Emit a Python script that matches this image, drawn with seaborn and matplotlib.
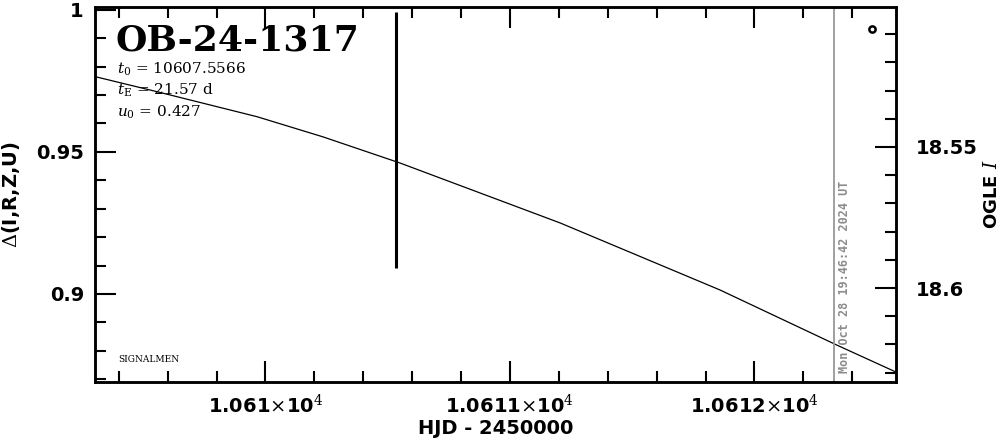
import matplotlib
matplotlib.use("Agg")
import matplotlib.pyplot as plt
import seaborn as sns
import pandas as pd
from matplotlib.ticker import MultipleLocator, FixedLocator, FuncFormatter

# model curve (HJD-2450000, Delta)
model_t = [10609.303, 10609.556, 10609.965, 10610.235, 10610.550, 10611.205, 10611.859, 10612.337, 10612.579]
model_d = [0.9765, 0.9712, 0.9624, 0.9553, 0.9461, 0.9250, 0.9014, 0.8820, 0.8725]

# OGLE I data point
ogle_t = [10610.536]
ogle_mag = [18.5475]
ogle_err = [0.0454]

now_t = 10612.324
now_label = "Mon Oct 28 19:46:42 2024 UT"
event = "OB-24-1317"
params = [r"$t_0$ = 10607.5566", r"$t_{\rm E}$ = 21.57 d", r"$u_0$ = 0.427"]
xticks = [10610, 10611, 10612]
xtick_labels = [r"1.061$\times$10$^4$", r"1.0611$\times$10$^4$", r"1.0612$\times$10$^4$"]

sns.set_theme(style="ticks")
plt.rcParams['font.family'] = ['DejaVu Sans']
plt.rcParams['mathtext.fontset'] = 'dejavuserif'
plt.rcParams['text.color'] = 'black'
plt.rcParams['axes.labelcolor'] = 'black'
plt.rcParams['xtick.color'] = 'black'
plt.rcParams['ytick.color'] = 'black'

fig = plt.figure(figsize=(9.99, 4.40), dpi=100)
ax = fig.add_axes([0.0951, 0.1318, 0.8018, 0.8523])

df = pd.DataFrame({"t": model_t, "d": model_d})
sns.lineplot(data=df, x="t", y="d", ax=ax, color="black", lw=0.9)

ax.set_xlim(10609.303, 10612.579)
ax.set_ylim(0.869, 1.001)

ax.axvline(now_t, color="#999999", lw=1.3)
ax.text(now_t + 0.045, 0.872, now_label, rotation=90, color="#8c8c8c",
        fontsize=8.5, fontweight="bold", family="DejaVu Sans Mono",
        ha="center", va="bottom")

ax.xaxis.set_major_locator(FixedLocator(xticks))
ax.xaxis.set_major_formatter(FuncFormatter(lambda v, p: xtick_labels[xticks.index(round(v))] if round(v) in xticks else ""))
ax.xaxis.set_minor_locator(MultipleLocator(0.2))
ax.yaxis.set_major_locator(MultipleLocator(0.05))
ax.yaxis.set_minor_locator(MultipleLocator(0.01))
ax.yaxis.set_major_formatter(FuncFormatter(lambda v, p: f"{v:g}"))

ax.tick_params(which="both", direction="in", top=True, right=False, width=1.5, labelsize=14, pad=8)
ax.tick_params(which="major", length=15)
ax.tick_params(which="minor", length=8)
for lab in ax.get_xticklabels() + ax.get_yticklabels():
    lab.set_fontweight("bold")

ax.set_xlabel("HJD - 2450000", fontsize=14, fontweight="bold", labelpad=2)
ax.set_ylabel(r"$\Delta$(I,R,Z,U)", fontsize=14, fontweight="bold", labelpad=10)

ax2 = ax.twinx()
ax2.set_ylim(18.6333, 18.5004)
ax2.errorbar(ogle_t, ogle_mag, yerr=ogle_err, fmt="none", ecolor="black", elinewidth=2.2, capsize=0)
ax2.yaxis.set_major_locator(FixedLocator([18.55, 18.6]))
ax2.yaxis.set_minor_locator(MultipleLocator(0.01))
ax2.yaxis.set_major_formatter(FuncFormatter(lambda v, p: f"{v:g}"))
ax2.tick_params(which="both", direction="in", width=1.5, labelsize=14, pad=14)
ax2.tick_params(which="major", length=15)
ax2.tick_params(which="minor", length=8)
for lab in ax2.get_yticklabels():
    lab.set_fontweight("bold")
ax2.set_ylabel("OGLE $I$", fontsize=13, fontweight="bold", rotation=90, labelpad=4)
ax2.plot([0.970], [0.941], transform=ax2.transAxes, marker="o", ms=4.5,
         mfc="white", mec="black", mew=1.8, ls="none")

for a in (ax, ax2):
    for s in a.spines.values():
        s.set_linewidth(1.8)
        s.set_color("black")

ax.text(0.025, 0.955, event, transform=ax.transAxes, fontsize=26, fontweight="bold",
        family="DejaVu Serif", va="top", ha="left")
for i, s in enumerate(params):
    ax.text(0.027, 0.835 - i * 0.058, s, transform=ax.transAxes, fontsize=11,
            family="DejaVu Serif", va="center", ha="left")
ax.text(0.029, 0.06, "SIGNALMEN", transform=ax.transAxes, fontsize=6.5,
        family="DejaVu Serif", va="center", ha="left")

fig.savefig("out.png", dpi=100)
